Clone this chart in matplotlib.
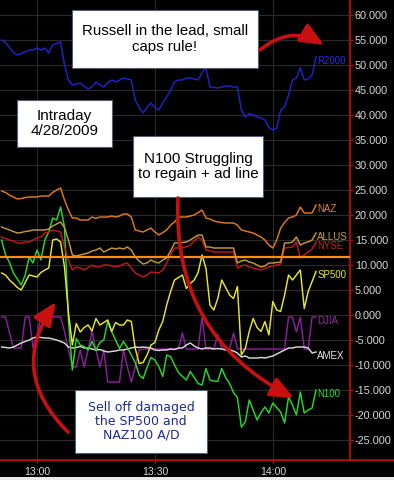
import matplotlib
matplotlib.use("Agg")
import matplotlib.pyplot as plt
from matplotlib.patches import Rectangle, FancyArrowPatch
from matplotlib.lines import Line2D

plt.rcParams['font.family'] = ['Liberation Sans', 'DejaVu Sans']
plt.rcParams['axes.unicode_minus'] = False

# minutes after 13:00, one reading per minute
minutes = list(range(-9, 72))

r2000 = [55, 54.5, 53.5, 52.5, 52, 52.3, 52.6, 53, 53, 53.4,
         53, 53.4, 52.4, 54, 54.3, 54.6, 50, 47, 46, 46.2,
         46.4, 45.8, 45.2, 45.6, 46.6, 46, 45.6, 46.5, 47, 46.6,
         47, 47.4, 47.2, 47, 43, 41.5, 40.4, 41.5, 42.4, 41.5,
         41, 42.5, 43.6, 45, 46.6, 47, 47, 47.4, 47.4, 47.2,
         47, 48.5, 49.4, 45.6, 45.5, 45.4, 45.6, 45.8, 45.8, 45.6,
         45.6, 41, 39.6, 40.3, 40, 39.6, 39.4, 39, 37.5, 37,
         37.4, 41, 41.6, 44, 47, 47.4, 49.5, 47, 47.2, 48, 51.6]

naz = [24.8, 24.5, 24, 23.6, 23.2, 23.3, 23.5, 23.6, 23.6, 23.6,
       23.8, 23.8, 23.8, 24.5, 25, 25.4, 23, 21, 19.4, 19.4,
       19, 19, 19, 19.6, 19.3, 19.6, 19.6, 19.6, 19.8, 19.6,
       19.8, 20.2, 20.2, 19.6, 17, 16.8, 16.6, 17, 17.4, 16.6,
       16, 16.5, 17, 18, 18.6, 19.6, 19.6, 19.6, 19.8, 20,
       20.5, 21, 19.4, 19.2, 18.8, 18.6, 18.5, 18.4, 18.4, 18.4,
       18, 17, 16.8, 16.6, 16.4, 16, 15.6, 15, 14, 13.4,
       15, 17.4, 18.5, 19.4, 19.6, 20, 21.6, 20.4, 20.4, 20.4, 22]

allus = [17.6, 17.3, 17, 16.7, 16.4, 16.5, 16.7, 16.8, 17, 17,
         17, 17, 17.2, 17.8, 18.2, 18.6, 17.5, 15, 12, 11.8,
         12, 12.2, 12.4, 12.8, 13, 13.4, 12.6, 13, 13.4, 13.2,
         13.4, 13.2, 13.6, 13, 11.6, 10.8, 10.2, 10.4, 11, 10.6,
         10.4, 11, 11.4, 12.8, 14.4, 14.4, 14.5, 14.6, 15, 15.5,
         16, 16, 13.6, 13.6, 13.4, 13.4, 13.4, 13.4, 13.4, 13.4,
         10.4, 10.8, 11, 10.6, 10.4, 10, 9.6, 9.8, 10.4, 10.4,
         10.5, 10.6, 14.4, 14.4, 14.6, 15.6, 14, 14.4, 14.6, 15, 16.4]

nyse = [15.6, 15.3, 15, 14.8, 14.4, 14.4, 14.6, 14.6, 15, 15.4,
        15.6, 16.4, 16.6, 17, 16.8, 16.6, 13.6, 11, 9, 9.6,
        9.4, 9, 9.5, 10, 9.6, 9.6, 10, 10, 9.8, 9.6,
        9.8, 10.2, 10.4, 9.4, 8.4, 8, 7.6, 8, 8.6, 8.5,
        8.4, 9, 10.4, 12, 13.4, 13.4, 13.5, 13.6, 14, 14.8,
        15.6, 15, 13, 12.8, 12.6, 12.6, 12.6, 12.6, 12.6, 12.6,
        9.4, 9.8, 10, 9.6, 9.4, 9.2, 9, 9.3, 9.6, 9.8,
        10, 10.2, 13.4, 13.5, 13.6, 14.6, 11.4, 12, 12.6, 13.2, 14.6]

sp500 = [8.4, 8, 7, 6.3, 5.5, 5, 6.5, 8, 7.8, 7.6,
         8.5, 9, 9.4, 15, 15.2, 14.6, 9.6, 0.5, -6, -1.7,
         -3.4, -2.5, -2, -3.2, -0.7, -2, -1.5, -1, -3.3, -1.5,
         -2, -2, -1, -1.3, -6.7, -9.7, -9.5, -8, -6, -5.5,
         -3, -1.3, 2, 4.7, 7, 7.5, 8, 5.3, 6.3, 7,
         8.5, 12, 9.3, 2, 1, 3.3, 7, 5.5, 4, 3.3,
         5.7, -8, -6.7, -3.3, -0.7, -2.5, -3.3, -1.3, -4, 2.7,
         1, 0.7, 4, 8, 7, 8, 9, 1.3, 4.7, 6.7, 8.7]

djia = [-0.4, -0.4, -3.5, -6.6, -6.6, -6.6, -0.4, -0.4, -6.6, -4,
        -0.4, -0.4, -0.4, -0.4, -0.4, -0.4, -3.3, -7, -10.4, -10.4,
        -7, -10.4, -7, -3.3, -7, -10.4, -7, -13.4, -13.4, -13.4,
        -13.4, -7, -10.4, -13.4, -10.4, -7, -6.8, -6.8, -6.8, -6.8,
        -6.8, -6.8, -6.8, -6.8, -6.8, -6.8, -3.6, -6.8, -6.8, -6.8,
        -6.8, -0.4, -6.8, -6.8, -6.8, -3.8, -6.8, -6.8, -6.8, -3.6,
        -6.8, -6.8, -6.8, -6.8, -6.8, -6.8, -6.8, -6.8, -6.8, -6.8,
        -6.8, -6.8, -6.8, -0.4, -0.4, -3.4, -0.4, -6.8, -6.8, -0.4, -0.4]

amex = [-6.4, -6.5, -6.6, -6.4, -6, -5.6, -5.3, -5, -4.6, -4.4,
        -4.5, -4.6, -4.6, -4.8, -5, -5.3, -5.6, -6.4, -6.6, -6.5,
        -6.3, -6.6, -6.6, -6.8, -7, -6.9, -7.2, -7.4, -7.3, -7.2,
        -7, -7, -6.8, -6.6, -6.4, -6.5, -6.4, -6.5, -6.6, -7,
        -7.1, -7, -7, -6.8, -6.9, -6.6, -6.6, -6, -5.6, -6.2,
        -6.6, -6.8, -6.6, -6.6, -6.8, -6.7, -6.8, -7, -7, -7.2,
        -7.6, -8.4, -8.2, -8.6, -8.6, -8.6, -8.5, -8.6, -8.4, -8.2,
        -7.8, -7.4, -7, -6.6, -6.6, -6.4, -6.4, -6.4, -6.6, -7.6, -7.4]

n100 = [15, 12, 10.5, 8.4, 7.2, 6, 8, 11.6, 10.4, 13,
        11, 15, 16.6, 19.4, 19, 21.6, 17.6, -1, -11, -4.7,
        -6, -6.3, -7, -5.3, -7, -5.5, -5, -1.3, -3.3, -5,
        -6.7, -5.3, -6.5, -8, -9.5, -12, -12.7, -10.5, -8.5, -9,
        -10.3, -12.3, -8, -8.3, -10, -11.5, -12.3, -13, -11.3, -12.5,
        -13.7, -14, -10.7, -13, -13.2, -13.3, -10.7, -12.5, -13.7, -15.5,
        -16.5, -22.4, -21.4, -17, -19, -21, -19.5, -18.4, -19.6, -17.6,
        -18.5, -19.4, -21.6, -16.4, -18, -20, -15.4, -19.6, -19, -18.6, -15]

ad_reference = 11.7

xtick_minutes = [0, 30, 60]
xtick_labels = ["13:00", "13:30", "14:00"]
ytick_values = list(range(60, -30, -5))

# name, values, line colour, label colour
series = [
    ("DJIA", djia, '#8c1e9c', '#9a2aa8'),
    ("AMEX", amex, '#d8d8d8', '#e6e6e6'),
    ("N100", n100, '#28d828', '#30d830'),
    ("SP500", sp500, '#e6e62a', '#e8e830'),
    ("NYSE", nyse, '#c01818', '#cc2020'),
    ("ALLUS", allus, '#c09a3a', '#c8a040'),
    ("NAZ", naz, '#e07a20', '#e8862a'),
    ("R2000", r2000, '#2222c8', '#2c2cdc'),
]

W, H = 394, 480
RED = '#c00808'

fig = plt.figure(figsize=(W / 100, H / 100), dpi=100, facecolor='black')
ax = fig.add_axes([0, 20 / H, 350 / W, 1 - 20 / H])
ax.set_facecolor('black')
ax.set_xlim(-9.41, 79.64)
ax.set_ylim(-29, 63)

# grid + axes
ax.set_yticks(ytick_values)
ax.set_yticklabels([f"{v:.3f}" for v in ytick_values])
ax.set_xticks(xtick_minutes)
ax.set_xticklabels(xtick_labels)
ax.grid(True, color='#2a2a2a', lw=0.8)
ax.set_axisbelow(True)
ax.yaxis.tick_right()
for side in ['left', 'top', 'bottom']:
    ax.spines[side].set_visible(False)
ax.spines['right'].set_color(RED)
ax.spines['right'].set_linewidth(1.3)
ax.tick_params(axis='y', color=RED, labelcolor='#d8d8d8', length=2.5, width=1, pad=1, labelsize=7.8)
ax.tick_params(axis='x', color=RED, labelcolor='#d8d8d8', length=2.5, width=1, pad=2.5, labelsize=7.6)

# bottom red line runs the full width
fig.add_artist(Line2D([0, 1], [20 / H, 20 / H], transform=fig.transFigure, color=RED, lw=1.3))
fig.add_artist(Rectangle((0, 0), 1, 3 / H, transform=fig.transFigure, color='#e8e8e8', lw=0))

for name, vals, col, lcol in series:
    ax.plot(minutes, vals, color=col, lw=1.05)
    ax.text(minutes[-1] + 0.3, vals[-1] - 0.8, name, color=lcol, fontsize=7,
            va='center', ha='left', clip_on=True)

ax.axhline(ad_reference, color='#ff8c10', lw=1.6, zorder=5)


def px_box(x0, y0, x1, y1, lines, fontsize=10.8, color='black', family=None):
    fig.add_artist(Rectangle((x0 / W, 1 - y1 / H), (x1 - x0) / W, (y1 - y0) / H,
                             transform=fig.transFigure, facecolor='white',
                             edgecolor='#556070', lw=0.8, zorder=2))
    kw = {}
    if family:
        kw['family'] = family
    fig.text((x0 + x1) / 2 / W, 1 - (y0 + y1) / 2 / H, lines, ha='center', va='center',
             fontsize=fontsize, color=color, linespacing=1.1, zorder=3, **kw)


px_box(72, 10, 258, 68, "Russell in the lead, small\ncaps rule!")
px_box(17, 100, 112, 147, "Intraday\n4/28/2009", fontsize=11)
px_box(133, 136, 263, 197, "N100 Struggling\nto regain + ad line", fontsize=10.9)
px_box(75, 390, 207, 453, "Sell off damaged\nthe SP500 and\nNAZ100 A/D", fontsize=9,
       color='#1e2a90', family=['DejaVu Sans'])


def px_arrow(xa, ya, xb, yb, rad):
    arr = FancyArrowPatch((xa / W, 1 - ya / H), (xb / W, 1 - yb / H),
                          transform=fig.transFigure,
                          connectionstyle=f"arc3,rad={rad}",
                          arrowstyle="-|>,head_length=0.7,head_width=0.3",
                          mutation_scale=20, lw=2.6, color='#c81010',
                          shrinkA=0, shrinkB=0, zorder=4)
    fig.add_artist(arr)


px_arrow(260, 50, 324, 45, -0.35)
px_arrow(178, 198, 294, 398, 0.32)
px_arrow(68, 432, 56, 302, -0.42)

fig.savefig('out.png', dpi=100, facecolor='black')
